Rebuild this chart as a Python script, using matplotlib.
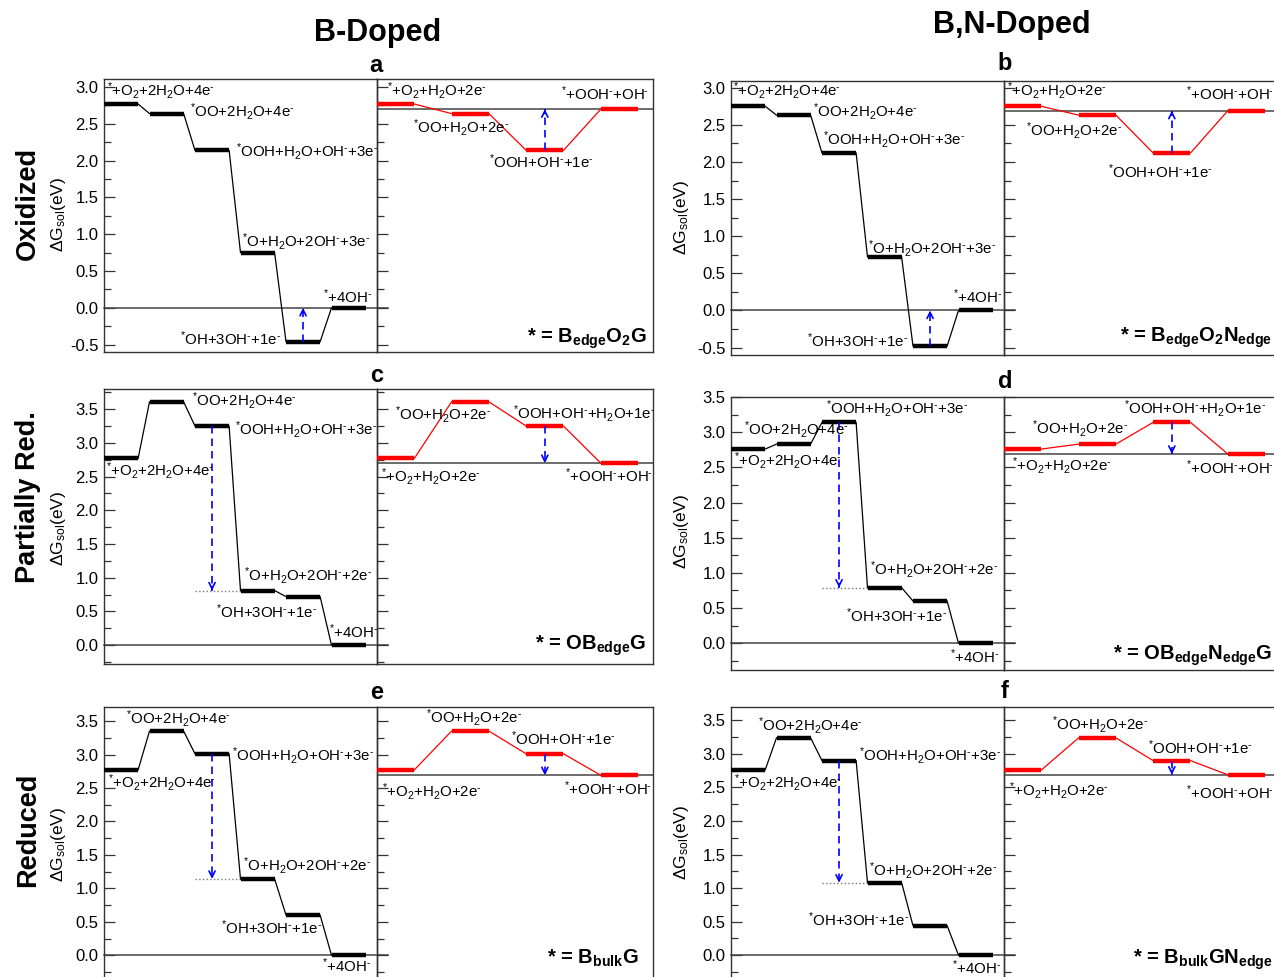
import matplotlib
matplotlib.use('Agg')
import matplotlib.pyplot as plt
from matplotlib.ticker import MultipleLocator, FormatStrFormatter

plt.rcParams['font.family'] = ['Liberation Sans', 'DejaVu Sans']
plt.rcParams['mathtext.fontset'] = 'custom'
plt.rcParams['mathtext.rm'] = 'Liberation Sans'
plt.rcParams['mathtext.it'] = 'Liberation Sans:italic'
plt.rcParams['mathtext.bf'] = 'Liberation Sans:bold'
plt.rcParams['mathtext.sf'] = 'Liberation Sans'

# ---------------- data ----------------
panel_ids = ['a', 'b', 'c', 'd', 'e', 'f']
row_titles = ['Oxidized', 'Partially Red.', 'Reduced']
col_titles = ['B-Doped', 'B,N-Doped']

# free energies (eV), 4e- pathway (black) and 2e- pathway (red)
ox_B_4e = [2.77, 2.64, 2.14, 0.75, -0.46, 0.00]
ox_B_2e = [2.77, 2.64, 2.14, 2.70]
ox_BN_4e = [2.75, 2.63, 2.12, 0.72, -0.48, 0.00]
ox_BN_2e = [2.75, 2.63, 2.12, 2.69]
pr_B_4e = [2.77, 3.61, 3.25, 0.81, 0.72, 0.00]
pr_B_2e = [2.77, 3.61, 3.25, 2.70]
pr_BN_4e = [2.76, 2.83, 3.14, 0.79, 0.60, 0.00]
pr_BN_2e = [2.76, 2.83, 3.14, 2.69]
red_B_4e = [2.77, 3.35, 3.01, 1.14, 0.60, 0.00]
red_B_2e = [2.77, 3.35, 3.01, 2.69]
red_BN_4e = [2.76, 3.24, 2.90, 1.08, 0.44, 0.00]
red_BN_2e = [2.76, 3.24, 2.90, 2.69]

# limiting-step arrows: (from level index, to level index)
arrow_4e = {'a': (4, 5), 'b': (4, 5), 'c': (2, 3), 'd': (2, 3), 'e': (2, 3), 'f': (2, 3)}
arrow_2e = {k: (2, 3) for k in panel_ids}

M = r"$^{\text{-}}$"   # small superscript minus
S = r"$^{*}$"
lab_4e_ox = [S + "+O$_2$+2H$_2$O+4e" + M, S + "OO+2H$_2$O+4e" + M,
             S + "OOH+H$_2$O+OH" + M + "+3e" + M, S + "O+H$_2$O+2OH" + M + "+3e" + M,
             S + "OH+3OH" + M + "+1e" + M, S + "+4OH" + M]
lab_4e_red = [S + "+O$_2$+2H$_2$O+4e" + M, S + "OO+2H$_2$O+4e" + M,
              S + "OOH+H$_2$O+OH" + M + "+3e" + M, S + "O+H$_2$O+2OH" + M + "+2e" + M,
              S + "OH+3OH" + M + "+1e" + M, S + "+4OH" + M]
lab_2e_a = [S + "+O$_2$+H$_2$O+2e" + M, S + "OO+H$_2$O+2e" + M,
            S + "OOH+OH" + M + "+1e" + M, S + "+OOH" + M + "+OH" + M]
lab_2e_b = [S + "+O$_2$+H$_2$O+2e" + M, S + "OO+H$_2$O+2e" + M,
            S + "OOH+OH" + M + "+H$_2$O+1e" + M, S + "+OOH" + M + "+OH" + M]
catalysts = [r"* = B$_{\mathbf{edge}}$O$_{\mathbf{2}}$G",
             r"* = B$_{\mathbf{edge}}$O$_{\mathbf{2}}$N$_{\mathbf{edge}}$",
             r"* = OB$_{\mathbf{edge}}$G",
             r"* = OB$_{\mathbf{edge}}$N$_{\mathbf{edge}}$G",
             r"* = B$_{\mathbf{bulk}}$G",
             r"* = B$_{\mathbf{bulk}}$GN$_{\mathbf{edge}}$"]
ylabel = r"$\Delta$G$_{\mathrm{sol}}$(eV)"

panels = {
    'a': (ox_B_4e, ox_B_2e, lab_4e_ox, lab_2e_a, catalysts[0]),
    'b': (ox_BN_4e, ox_BN_2e, lab_4e_ox, lab_2e_a, catalysts[1]),
    'c': (pr_B_4e, pr_B_2e, lab_4e_red, lab_2e_b, catalysts[2]),
    'd': (pr_BN_4e, pr_BN_2e, lab_4e_red, lab_2e_b, catalysts[3]),
    'e': (red_B_4e, red_B_2e, lab_4e_red, lab_2e_a, catalysts[4]),
    'f': (red_BN_4e, red_BN_2e, lab_4e_red, lab_2e_a, catalysts[5]),
}

# ---------------- layout ----------------
W, H = 1274, 977
# x_left, x_div, x_right, y_top, y_bottom (pixels)
geom = {
    'a': (104, 377, 653, 79, 352),
    'b': (731, 1004, 1280, 81, 355),
    'c': (104, 377, 653, 389, 664),
    'd': (731, 1004, 1280, 397, 670),
    'e': (104, 377, 653, 707, 982),
    'f': (731, 1004, 1280, 707, 982),
}
ylims = {'a': (-0.60, 3.11), 'b': (-0.60, 3.09), 'c': (-0.28, 3.80),
         'd': (-0.38, 3.50), 'e': (-0.40, 3.71), 'f': (-0.40, 3.70)}

pos_4e = {
    'a': [(0.06, 2.89), (1.90, 2.60), (2.90, 2.05), (3.03, 0.83), (1.66, -0.50), (4.81, 0.07)],
    'b': [(0.04, 2.90), (1.80, 2.61), (2.02, 2.24), (3.01, 0.76), (1.66, -0.49), (4.87, 0.10)],
    'c': [(0.05, 2.51), (1.93, 3.56), (2.88, 3.12), (3.08, 0.96), (2.47, 0.40), (4.95, 0.11)],
    'd': [(0.07, 2.52), (0.29, 2.96), (2.09, 3.26), (3.05, 0.97), (2.52, 0.30), (4.81, -0.28)],
    'e': [(0.09, 2.50), (0.48, 3.46), (2.82, 2.91), (3.05, 1.27), (2.58, 0.32), (4.80, -0.25)],
    'f': [(0.06, 2.50), (0.59, 3.35), (2.82, 2.90), (3.03, 1.18), (1.70, 0.44), (4.85, -0.28)],
}
pos_2e = {
    'a': [(0.13, 2.89), (0.48, 2.38), (1.50, 1.90), (2.47, 2.83)],
    'b': [(0.04, 2.89), (0.30, 2.35), (1.40, 1.79), (2.44, 2.84)],
    'c': [(0.05, 2.42), (0.24, 3.34), (1.82, 3.36), (2.52, 2.42)],
    'd': [(0.11, 2.46), (0.37, 2.98), (1.61, 3.26), (2.44, 2.40)],
    'e': [(0.07, 2.37), (0.66, 3.47), (1.80, 3.14), (2.51, 2.39)],
    'f': [(0.07, 2.38), (0.64, 3.37), (1.93, 3.00), (2.44, 2.33)],
}
cat_pos = {'a': (3.62, -0.47), 'b': (3.60, -0.42), 'c': (3.61, -0.07),
           'd': (3.60, -0.23), 'e': (3.50, -0.12), 'f': (3.60, -0.12)}

LAB_FS = 10.8
TICK_FS = 12
CAT_FS = 14.5
SPINE_C = '#333333'

fig = plt.figure(figsize=(W / 100, H / 100), dpi=100)


def rect(x0, x1, top, bottom):
    return [x0 / W, 1 - bottom / H, (x1 - x0) / W, (bottom - top) / H]


def style_axis(ax, ylim, show_labels):
    ax.set_ylim(*ylim)
    ax.set_xticks([])
    ax.yaxis.set_major_locator(MultipleLocator(0.5))
    ax.yaxis.set_minor_locator(MultipleLocator(0.25))
    ax.yaxis.set_major_formatter(FormatStrFormatter('%.1f'))
    ax.tick_params(axis='y', which='major', direction='in', length=8, width=0.9,
                   color=SPINE_C, labelsize=TICK_FS, left=True, right=False,
                   labelleft=show_labels, pad=4)
    ax.tick_params(axis='y', which='minor', direction='in', length=5, width=0.9,
                   color=SPINE_C, left=True, right=False)
    for s in ax.spines.values():
        s.set_color(SPINE_C)
        s.set_linewidth(1.0)


def draw_path(ax, vals, step, width, color):
    for i, v in enumerate(vals):
        ax.plot([i * step, i * step + width], [v, v], color=color, lw=3.2,
                solid_capstyle='butt', zorder=3)
        if i < len(vals) - 1:
            ax.plot([i * step + width, (i + 1) * step], [v, vals[i + 1]],
                    color=color, lw=0.9, zorder=3)


def blue_arrow(ax, x, y0, y1):
    ax.plot([x, x], [y0, y1], color='blue', lw=1.2, ls=(0, (4.5, 3)), zorder=4)
    sgn = 1 if y1 > y0 else -1
    ax.annotate('', xy=(x, y1), xytext=(x, y1 - sgn * 0.06),
                arrowprops=dict(arrowstyle='->', color='blue', lw=1.2,
                                mutation_scale=11, shrinkA=0, shrinkB=0), zorder=4)


for pid in panel_ids:
    v4, v2, l4, l2, cat = panels[pid]
    x0, xd, x1, yt, yb = geom[pid]
    axL = fig.add_axes(rect(x0, xd, yt, yb))
    axR = fig.add_axes(rect(xd, x1, yt, yb))
    axR.patch.set_visible(False)
    style_axis(axL, ylims[pid], True)
    style_axis(axR, ylims[pid], False)
    axL.set_xlim(0, 6)
    axR.set_xlim(0, 3.7)

    # reference lines
    axL.plot([0, 6.25], [v4[-1], v4[-1]], color='#444444', lw=1.1, clip_on=False, zorder=2)
    axR.axhline(v2[-1], color='#444444', lw=1.1, zorder=2)

    draw_path(axL, v4, 1.0, 0.75, 'black')
    draw_path(axR, v2, 1.0, 0.5, '#ff0000')

    # limiting-step arrows
    i0, i1 = arrow_4e[pid]
    blue_arrow(axL, i0 + 0.375, v4[i0], v4[i1])
    if v4[i1] < v4[i0]:
        axL.plot([i0, i1], [v4[i1], v4[i1]], color='#777777', lw=1.0, ls=':', zorder=2)
    j0, j1 = arrow_2e[pid]
    blue_arrow(axR, j0 + 0.25, v2[j0], v2[j1])

    for (tx, ty), s in zip(pos_4e[pid], l4):
        axL.text(tx, ty, s, fontsize=LAB_FS, ha='left', va='baseline', zorder=5)
    for (tx, ty), s in zip(pos_2e[pid], l2):
        axR.text(tx, ty, s, fontsize=LAB_FS, ha='left', va='baseline', zorder=5)
    cx, cy = cat_pos[pid]
    axR.text(cx, cy, cat, fontsize=CAT_FS, fontweight='bold', ha='right', va='baseline')

# panel letters
letter_pos = {'a': (376, 72), 'b': (1005, 70), 'c': (377, 382),
              'd': (1005, 388), 'e': (377, 699), 'f': (1005, 698)}
for pid, (px, py) in letter_pos.items():
    fig.text(px / W, 1 - py / H, pid, fontsize=17, fontweight='bold',
             ha='center', va='baseline')

# column titles
fig.text(378 / W, 1 - 41 / H, col_titles[0], fontsize=22, fontweight='bold',
         ha='center', va='baseline')
fig.text(1012 / W, 1 - 33 / H, col_titles[1], fontsize=22, fontweight='bold',
         ha='center', va='baseline')

# row titles
for title, py in zip(row_titles, [203, 497, 830]):
    fig.text(28 / W, 1 - py / H, title, fontsize=19.5, fontweight='bold',
             rotation=90, ha='center', va='center')

# y labels
for px, py in [(58, 214), (58, 528), (58, 844), (682, 217), (682, 531), (682, 842)]:
    fig.text(px / W, 1 - py / H, ylabel, fontsize=12.5, rotation=90,
             ha='center', va='center')

fig.savefig('out.png', dpi=100)
